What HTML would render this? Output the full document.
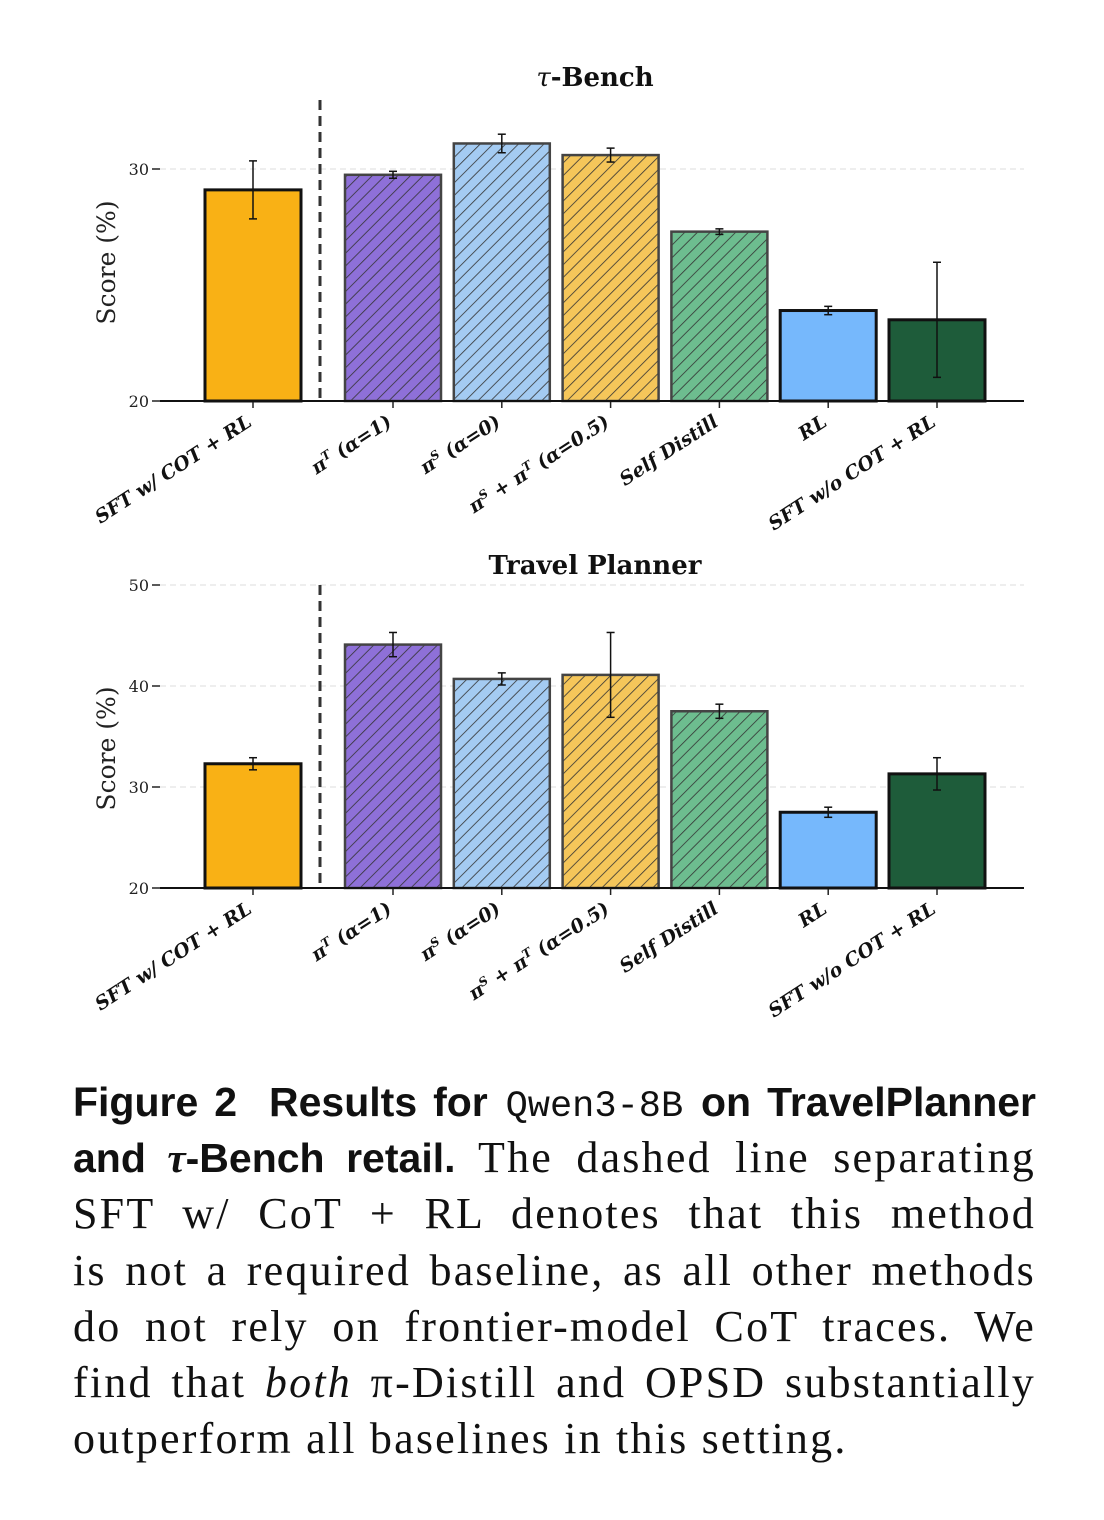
<!DOCTYPE html>
<html><head><meta charset="utf-8">
<style>
body{margin:0;background:#fff;width:1104px;height:1520px;overflow:hidden;position:relative}
svg{position:absolute;left:0;top:0}
.cap{position:absolute;left:73px;width:963px;top:1074px;font-family:"Liberation Serif",serif;font-size:44px;letter-spacing:2.2px;color:#111}
.cap div{height:56.2px;line-height:56.2px;text-align:justify;text-align-last:justify;white-space:nowrap}
.cap div.last{text-align-last:left}
.b{font-family:"Liberation Sans Narrow","Liberation Sans",sans-serif;font-weight:bold;font-stretch:condensed;letter-spacing:0;font-size:41px}
.m{font-family:"Liberation Mono",monospace;font-size:37px;letter-spacing:0}
</style></head><body>
<svg id="chart" width="1104" height="1060">
<defs>
<pattern id="hatch" patternUnits="userSpaceOnUse" width="9" height="9" patternTransform="rotate(45)">
<line x1="0" y1="0" x2="0" y2="9" stroke="#333" stroke-width="1.6"/>
</pattern>
</defs>
</svg>
<div class="cap">
<div><span class="b">Figure 2&nbsp; Results for</span> <span class="m">Qwen3-8B</span> <span class="b">on TravelPlanner</span></div>
<div><span class="b">and <i style="font-family:'Liberation Serif',serif">τ</i>-Bench retail.</span> The dashed line separating</div>
<div>SFT w/ CoT + RL denotes that this method</div>
<div>is not a required baseline, as all other methods</div>
<div>do not rely on frontier-model CoT traces. We</div>
<div>find that <i>both</i> π-Distill and OPSD substantially</div>
<div class="last">outperform all baselines in this setting.</div>
</div>
<script>
const categories=["SFT w/ COT + RL","πT (α=1)","πS (α=0)","πS + πT (α=0.5)","Self Distill","RL","SFT w/o COT + RL"];
const tauValues=[29.1,29.75,31.1,30.6,27.3,23.9,23.5];
const tauErrors=[1.25,0.15,0.4,0.3,0.12,0.18,2.48];
const travelValues=[32.3,44.1,40.7,41.1,37.5,27.5,31.3];
const travelErrors=[0.6,1.2,0.6,4.2,0.7,0.5,1.6];
const tauTicks=[20,30];
const travelTicks=[20,30,40,50];
const colors=["#f9b115","#8e70d8","#a4cbf2","#f5c65a","#6dbd8f","#76b8fc","#1e5c3a"];
const hatched=[false,true,true,true,true,false,false];

const svg=document.getElementById('chart');
const NS="http://www.w3.org/2000/svg";
function mk(t,a,txt){const e=document.createElementNS(NS,t);for(const k in a)e.setAttribute(k,a[k]);if(txt!==undefined)e.textContent=txt;svg.appendChild(e);return e;}
function xPos(i){return 253+(i===0?0:140+(i-1)*108.8);}
function labelMarkup(i){
 const sup=s=>'<tspan baseline-shift="super" font-size="12">'+s+'</tspan>';
 const pi='<tspan font-style="italic">π</tspan>';
 const al='<tspan font-style="italic">α</tspan>';
 switch(i){
  case 1:return pi+sup('T')+' ('+al+'=1)';
  case 2:return pi+sup('S')+' ('+al+'=0)';
  case 3:return pi+sup('S')+' + '+pi+sup('T')+' ('+al+'=0.5)';
  default:return categories[i];
 }
}
function panel(name,title,vals,errs,ticks,y0,pxPerUnit,yTop,titleY){
 const yS=v=>y0-(v-20)*pxPerUnit;
 const t=mk('text',{x:595,y:titleY,'text-anchor':'middle','font-family':'DejaVu Serif,serif','font-weight':'bold','font-size':26,fill:'#111'});
 
 
 t.innerHTML=title;
 ticks.forEach(v=>{
  const y=yS(v);
  if(v>20){const g=mk('line',{x1:160,x2:1024,y1:y,y2:y,stroke:'#ddd','stroke-dasharray':'6,4','stroke-width':1});
   
   }
  mk('line',{x1:152,x2:160,y1:y,y2:y,stroke:'#222','stroke-width':1.5});
  const l=mk('text',{x:149,y:y+6,'text-anchor':'end','font-family':'DejaVu Serif,serif','font-size':16,fill:'#222'},String(v));
  
  
 });
 const yl=mk('text',{x:0,y:0,transform:`translate(115,${(y0+yTop)/2+12}) rotate(-90)`,'text-anchor':'middle','font-family':'DejaVu Serif,serif','font-size':25,fill:'#222'},'Score (%)');
 
 
 vals.forEach((v,i)=>{
  const cx=xPos(i),y=yS(v);
  const r=mk('rect',{x:cx-48,y:y,width:96,height:y0-y,fill:colors[i]});
  
  
  if(hatched[i]) mk('rect',{x:cx-48,y:y,width:96,height:y0-y,fill:'url(#hatch)'});
  mk('rect',{x:cx-48,y:y,width:96,height:y0-y,fill:'none',stroke:hatched[i]?'#444':'#111','stroke-width':hatched[i]?2.5:3});
  const e1=yS(v+errs[i]),e2=yS(v-errs[i]);
  const eb=mk('line',{x1:cx,x2:cx,y1:e1,y2:e2,stroke:'#111','stroke-width':1.5});
  
  
  mk('line',{x1:cx-4,x2:cx+4,y1:e1,y2:e1,stroke:'#111','stroke-width':1.5});
  mk('line',{x1:cx-4,x2:cx+4,y1:e2,y2:e2,stroke:'#111','stroke-width':1.5});
  mk('line',{x1:cx,x2:cx,y1:y0,y2:y0+7,stroke:'#222','stroke-width':1.5});
  const lb=mk('text',{x:0,y:0,transform:`translate(${cx},${y0+24}) rotate(-33)`,'text-anchor':'end','font-family':'DejaVu Serif,serif','font-weight':'bold','font-style':'italic','font-size':19,fill:'#111'});
  
  
  lb.innerHTML=labelMarkup(i);
 });
 const ax=mk('line',{x1:160,x2:1024,y1:y0,y2:y0,stroke:'#111','stroke-width':2});
 
 
 const d=mk('line',{x1:320,x2:320,y1:yTop,y2:y0,stroke:'#333','stroke-width':3,'stroke-dasharray':'10,6'});
 
 
}
panel('tau-bench','<tspan font-style="italic" font-weight="normal">τ</tspan>-Bench',tauValues,tauErrors,tauTicks,401,23.2,100,86);
panel('travel-planner','Travel Planner',travelValues,travelErrors,travelTicks,888,10.1,585,574);
</script>
</body></html>
